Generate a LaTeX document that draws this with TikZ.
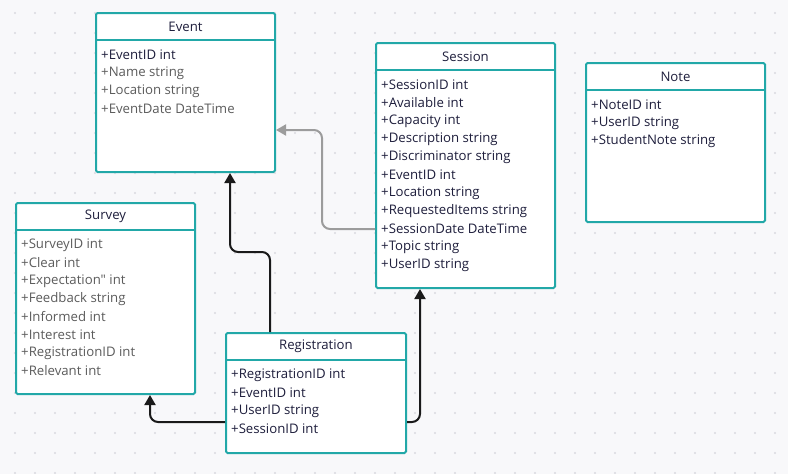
\documentclass[tikz,border=0pt]{standalone}
\usepackage{fontspec}
\setmainfont{Open Sans}[Ligatures=TeXOff]
\usetikzlibrary{arrows.meta}
\definecolor{tealc}{HTML}{22A8A8}
\definecolor{bgc}{HTML}{F8F8FA}
\definecolor{dotc}{HTML}{D9D9DF}
\definecolor{ink}{HTML}{1E1E3C}
\definecolor{dim}{HTML}{5C5C5C}
\definecolor{gline}{HTML}{9C9C9C}
\definecolor{blk}{HTML}{1A1A1A}
\newcommand\umlbox[6]{%
  \node[umlbody, minimum width=#4pt, minimum height=#5pt, anchor=north west] (#1) at (#2,#3) {};
  \draw[tealc, line width=2pt] ([yshift=-28pt]#1.north west) -- ([yshift=-28pt]#1.north east);
  \node[hdr] (#1T) at ([yshift=-14.5pt]#1.north) {#6};
}
\begin{document}
\begin{tikzpicture}[x=1pt,y=-1pt,
  umlbody/.style={draw=tealc, fill=white, line width=2pt, rounded corners=1.5pt, inner sep=0pt},
  hdr/.style={font=\fontsize{13.2}{15}\selectfont, text=ink, inner sep=0pt},
  attr/.style={font=\fontsize{13.2}{15}\selectfont, text=ink, inner sep=0pt, anchor=west},
  dattr/.style={attr, text=dim},
  conn/.style={line width=2pt, rounded corners=8pt, -{Triangle[width=11pt,length=10pt]}},
]
\fill[bgc] (0,0) rectangle (788,474);
\useasboundingbox (0,0) rectangle (788,474);
\foreach \i in {0,...,38} {\foreach \j in {0,...,23} {\fill[dotc] (15+20*\i,13+20*\j) circle (1.1pt);}}

% Event
\umlbox{event}{95}{12}{179}{159}{Event}
\node[attr]  (e1) at (101,55) {+EventID int};
\node[dattr] (e2) at (101,73) {+Name string};
\node[dattr] (e3) at (101,91) {+Location string};
\node[dattr] (e4) at (101,109) {+EventDate DateTime};

% Session
\umlbox{session}{375}{42}{179}{245}{Session}
\node[attr] (s1) at (381,85) {+SessionID int};
\node[attr] (s2) at (381,103) {+Available int};
\node[attr] (s3) at (381,121) {+Capacity int};
\node[attr] (s4) at (381,139) {+Description string};
\node[attr] (s5) at (381,157) {+Discriminator string};
\node[attr] (s6) at (381,175) {+EventID int};
\node[attr] (s7) at (381,193) {+Location string};
\node[attr] (s8) at (381,211) {+RequestedItems string};
\node[attr] (s9) at (381,229) {+SessionDate DateTime};
\node[attr] (s10) at (381,247) {+Topic string};
\node[attr] (s11) at (381,265) {+UserID string};

% Note
\umlbox{note}{585}{62}{179}{159}{Note}
\node[attr] (n1) at (591,105) {+NoteID int};
\node[attr] (n2) at (591,123) {+UserID string};
\node[attr] (n3) at (591,141) {+StudentNote string};

% Survey
\umlbox{survey}{15}{202}{179}{191}{Survey}
\node[dattr] (v1) at (21,245) {+SurveyID int};
\node[dattr] (v2) at (21,263) {+Clear int};
\node[dattr] (v3) at (21,281) {+Expectation" int};
\node[dattr] (v4) at (21,299) {+Feedback string};
\node[dattr] (v5) at (21,317) {+Informed int};
\node[dattr] (v6) at (21,335) {+Interest int};
\node[dattr] (v7) at (21,353) {+RegistrationID int};
\node[dattr] (v8) at (21,371) {+Relevant int};

% Registration
\umlbox{reg}{225}{332}{180}{120}{Registration}
\node[attr] (r1) at (231,375) {+RegistrationID int};
\node[attr] (r2) at (231,393) {+EventID int};
\node[attr] (r3) at (231,411) {+UserID string};
\node[attr] (r4) at (231,429) {+SessionID int};

% connectors
\coordinate (c1) at (322,130);
\coordinate (c2) at (270,252);
\coordinate (c3) at (230,252);
\coordinate (c4) at (150,422);
\coordinate (c5) at (420,422);
\draw[conn, gline] (s9 -| session.west) -| (c1) -- (c1 -| event.east);
\draw[conn, blk] (c2 |- reg.north) -- (c2) -- (c3) -- (c3 |- event.south);
\draw[conn, blk] (c4 -| reg.west) -| (c4 |- survey.south);
\draw[conn, blk] (c5 -| reg.east) -| (c5 |- session.south);
\end{tikzpicture}
\end{document}
